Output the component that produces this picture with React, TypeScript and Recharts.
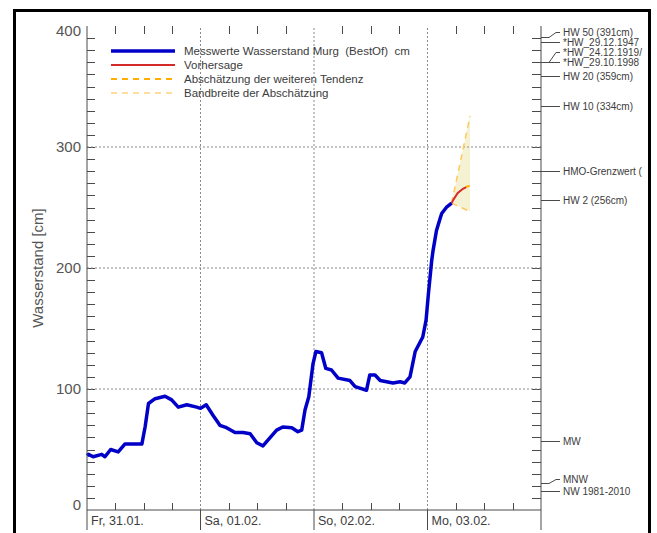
import React from "react";
import { Area, ComposedChart, Legend, Line, ReferenceLine, XAxis, YAxis } from "recharts";

// hours since Fr 31.01. 00:00
const measuredHours = [0, 0.3, 1.3, 3.1, 3.8, 5.0, 6.6, 8.0, 9.7, 11.6, 12.3, 13.0, 14.4, 16.5, 17.9, 19.3, 21.1, 23.2, 24.0, 25.2, 26.6, 28.1, 29.5, 31.3, 33.0, 34.5, 35.9, 37.2, 38.3, 40.1, 41.4, 43.3, 44.6, 45.4, 46.1, 46.9, 47.8, 48.4, 49.6, 50.5, 51.7, 53.1, 55.6, 56.7, 59.1, 59.8, 60.9, 62.0, 64.7, 66.2, 67.2, 68.3, 69.4, 71.0, 71.7, 72.2, 72.9, 73.2, 73.9, 74.6, 75.0, 76.1, 77.1];
const measuredLevels = [45, 46, 44, 46, 44, 50, 48, 54.5, 54.5, 54.5, 69, 88, 92, 94, 91, 85, 87, 85, 84, 87, 78.5, 70, 68, 64, 64, 63, 55.6, 53, 58, 66, 68.6, 68, 64.7, 66, 82.6, 93.6, 121, 131, 130, 117, 115.7, 109, 107, 102, 99, 111.6, 111.6, 107, 105, 106, 105, 110, 131, 143, 157, 179, 206.6, 215, 231, 240, 245, 250.6, 253.6];

const forecastHours = [77.1, 77.4, 78.4, 79.5, 80.3];
const forecastLevels = [253.6, 256, 262, 265.5, 267];
const trendHours = [80.1, 81.0];
const trendLevels = [267, 268];
const bandHours = [77.1, 81.0];
const bandLow = [253.6, 246.6];
const bandHigh = [253.6, 325.6];

const dayTicks = [0, 24, 48, 72, 96];
const dayStarts = [24, 48, 72];
const dayLabels = ["Fr, 31.01.", "Sa, 01.02.", "So, 02.02.", "Mo, 03.02."];
const quarterDayHours = [6, 12, 18, 30, 36, 42, 54, 60, 66, 78, 84, 90];
const levelLabels = [0, 100, 200, 300, 400];
const gridLevels = [100, 200, 300];
const minorLevels = Array.from({ length: 39 }, (_, i) => (i + 1) * 10);

const markLevels = [391, 387, 370, 370, 359, 334, 280, 256, 57, 22, 16];
const markLabels = ["HW 50 (391cm)", "*HW_29.12.1947", "*HW_24.12.1919/", "*HW_29.10.1998", "HW 20 (359cm)", "HW 10 (334cm)", "HMO-Grenzwert (", "HW 2 (256cm)", "MW", "MNW", "NW 1981-2010"];
const markLift: Record<string, number> = { "HW 50 (391cm)": -5, "*HW_24.12.1919/": -10, "MNW": -4 };

const legendItems = [
  { name: "Messwerte Wasserstand Murg  (BestOf)  cm", color: "#0000c8", width: 3.5, dash: undefined },
  { name: "Vorhersage", color: "#d42a2a", width: 2, dash: undefined },
  { name: "Abschätzung der weiteren Tendenz", color: "#ffae00", width: 2, dash: "6 5" },
  { name: "Bandbreite der Abschätzung", color: "#ffd27a", width: 1.5, dash: "6 5" },
];

const measured = measuredHours.map((t, i) => ({ t, level: measuredLevels[i] }));
const forecast = forecastHours.map((t, i) => ({ t, level: forecastLevels[i] }));
const trend = trendHours.map((t, i) => ({ t, level: trendLevels[i] }));
const band = bandHours.map((t, i) => ({ t, lo: bandLow[i], hi: bandHigh[i], range: [bandLow[i], bandHigh[i]] }));

const AXIS = "#4a4a4a";
const TEXT = "#3c3c3c";
const FONT = "'Liberation Sans', Arial, sans-serif";
const crisp = (v: number) => Math.round(v) + 0.5;

function BottomTick(props: any) {
  const { x, y, payload } = props;
  const v = Math.round(payload.value);
  if (v % 24 !== 0) return <g />;
  const label = dayLabels[v / 24];
  return (
    <g>
      <line x1={x} y1={y} x2={x} y2={y + 20} stroke={AXIS} />
      {label && (
        <text x={x + 4} y={y + 15} fontSize={12.5} fill={TEXT} fontFamily={FONT}>{label}</text>
      )}
    </g>
  );
}

function LeftTick(props: any) {
  const { x, y, payload } = props;
  const v = Math.round(payload.value);
  if (!levelLabels.includes(v)) return <g />;
  const shift = v === 400 ? 5 : v === 0 ? -5 : 0;
  return (
    <text x={x - 6} y={y + shift} dy="0.35em" textAnchor="end" fontSize={15} fill="#555" fontFamily={FONT}>{v}</text>
  );
}

// inward tick marks drawn from the viewBox of an invisible reference line
function LevelTicks({ viewBox }: any) {
  if (!viewBox) return null;
  const { x, width } = viewBox;
  const y = crisp(viewBox.y);
  return (
    <g>
      <line x1={x} y1={y} x2={x + 8} y2={y} stroke={AXIS} />
      <line x1={x + width - 9} y1={y} x2={x + width} y2={y} stroke={AXIS} />
    </g>
  );
}

function HourTicks({ viewBox }: any) {
  if (!viewBox) return null;
  const { y, height } = viewBox;
  const x = crisp(viewBox.x);
  return (
    <g>
      <line x1={x} y1={y} x2={x} y2={y + 8} stroke={AXIS} />
      <line x1={x} y1={y + height - 7} x2={x} y2={y + height} stroke={AXIS} />
    </g>
  );
}

function MarkLabel({ viewBox, label }: any) {
  if (!viewBox) return null;
  const x = viewBox.x + viewBox.width;
  const y = crisp(viewBox.y);
  const lift = markLift[label] ?? 0;
  const pts = lift === 0
    ? `${x},${y} ${x + 19},${y}`
    : `${x},${y} ${x + 8},${y} ${x + 15},${y + lift} ${x + 19},${y + lift}`;
  return (
    <g>
      <polyline points={pts} fill="none" stroke={AXIS} />
      <text x={x + 22} y={y + lift} dy="0.35em" fontSize={10} fill={TEXT} fontFamily={FONT}>{label}</text>
    </g>
  );
}

function LegendBox() {
  return (
    <div style={{ fontFamily: FONT, fontSize: 11.5, color: TEXT }}>
      {legendItems.map((item) => (
        <div key={item.name} style={{ display: "flex", alignItems: "center", height: 14 }}>
          <svg width={64} height={8} style={{ marginRight: 9 }}>
            <line x1={0} y1={4} x2={64} y2={4} stroke={item.color} strokeWidth={item.width} strokeDasharray={item.dash} />
          </svg>
          <span style={{ whiteSpace: "pre" }}>{item.name}</span>
        </div>
      ))}
    </div>
  );
}

function AxisTitle({ viewBox }: any) {
  const cx = viewBox ? viewBox.x + viewBox.width - 49 : 38;
  const cy = viewBox ? viewBox.y + viewBox.height / 2 : 268;
  return (
    <text x={cx} y={cy} transform={`rotate(-90, ${cx}, ${cy})`} textAnchor="middle" dy="0.35em" fontSize={15} fill="#555" fontFamily={FONT}>
      Wasserstand [cm]
    </text>
  );
}

export default function App() {
  return (
    <div style={{ position: "absolute", left: 0, top: 0, width: 657, height: 533, background: "#fff", overflow: "hidden" }}>
      <ComposedChart width={651} height={533} margin={{ top: 26, right: 0, bottom: 3, left: 47 }}>
        <XAxis xAxisId="days" type="number" dataKey="t" domain={[0, 96]} ticks={dayTicks} interval={0}
          height={20} tickSize={0} tickMargin={0} tickLine={false} tick={BottomTick} axisLine={{ stroke: AXIS }} />
        <XAxis xAxisId="box" type="number" domain={[0, 96]} ticks={[]} height={0} tick={false} tickLine={false} axisLine={{ stroke: AXIS }} />
        <XAxis xAxisId="top" orientation="top" type="number" domain={[0, 96]} height={0} tick={false} tickLine={false} axisLine={{ stroke: AXIS }} />
        <YAxis yAxisId="left" type="number" domain={[0, 400]} ticks={levelLabels} interval={0} width={40}
          tickSize={0} tickMargin={0} tickLine={false} tick={LeftTick} axisLine={{ stroke: AXIS }}
          label={{ content: AxisTitle }} />
        <YAxis yAxisId="right" orientation="right" type="number" domain={[0, 400]} width={110}
          tick={false} tickLine={false} axisLine={{ stroke: AXIS }} />

        {minorLevels.map((v) => (
          <ReferenceLine key={`l${v}`} xAxisId="days" yAxisId="left" y={v} stroke="none"
            label={{ content: (p: any) => <LevelTicks viewBox={p.viewBox} /> }} />
        ))}
        {quarterDayHours.map((h) => (
          <ReferenceLine key={`q${h}`} xAxisId="days" yAxisId="left" x={h} stroke="none"
            label={{ content: (p: any) => <HourTicks viewBox={p.viewBox} /> }} />
        ))}
        {gridLevels.map((v) => (
          <ReferenceLine key={`h${v}`} xAxisId="days" yAxisId="left" y={v} stroke="#8a8a8a" strokeDasharray="2 2" />
        ))}
        {dayStarts.map((v) => (
          <ReferenceLine key={`v${v}`} xAxisId="days" yAxisId="left" x={v} stroke="#8a8a8a" strokeDasharray="2 2" />
        ))}
        {markLevels.map((v, i) => (
          <ReferenceLine key={`m${i}`} xAxisId="days" yAxisId="left" y={v} stroke="none"
            label={{ content: (p: any) => <MarkLabel viewBox={p.viewBox} label={markLabels[i]} /> }} />
        ))}

        <Area xAxisId="days" yAxisId="left" data={band} dataKey="range" type="linear" fill="#f5f2d3" fillOpacity={1}
          stroke="none" isAnimationActive={false} legendType="none" />
        <Line xAxisId="days" yAxisId="left" data={band} dataKey="hi" type="linear" stroke="#ffc95c" strokeWidth={1.5}
          strokeDasharray="6 5" dot={false} isAnimationActive={false} legendType="none" />
        <Line xAxisId="days" yAxisId="left" data={band} dataKey="lo" type="linear" stroke="#ffc95c" strokeWidth={1.5}
          strokeDasharray="6 5" dot={false} isAnimationActive={false} legendType="none" />
        <Line xAxisId="days" yAxisId="left" data={measured} dataKey="level" type="linear" stroke="#0000c8" strokeWidth={3.5}
          strokeLinejoin="round" dot={false} isAnimationActive={false} legendType="none" />
        <Line xAxisId="days" yAxisId="left" data={forecast} dataKey="level" type="linear" stroke="#d42a2a" strokeWidth={2}
          dot={false} isAnimationActive={false} legendType="none" />
        <Line xAxisId="days" yAxisId="left" data={trend} dataKey="level" type="linear" stroke="#ffae00" strokeWidth={2}
          strokeDasharray="4 3" dot={false} isAnimationActive={false} legendType="none" />

        <Legend layout="vertical" align="center" verticalAlign="middle" content={() => <LegendBox />}
          wrapperStyle={{ left: 111, top: 44, width: "auto" }} />
      </ComposedChart>
      <div style={{ position: "absolute", left: 13, top: 9, width: 632, height: 540, border: "3px solid #000" }} />
    </div>
  );
}
